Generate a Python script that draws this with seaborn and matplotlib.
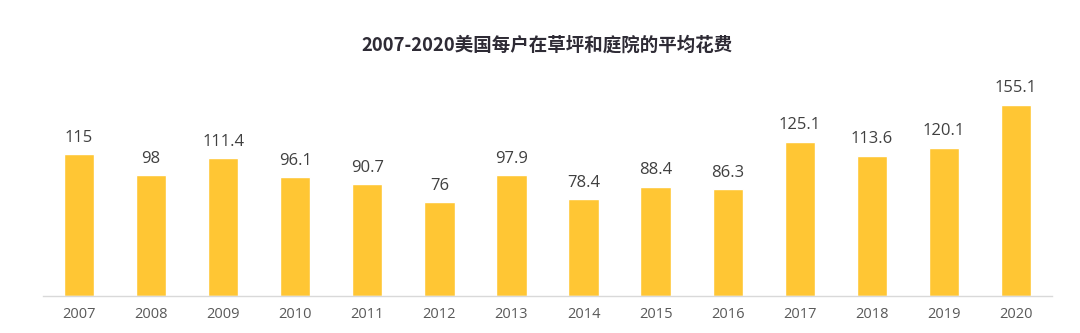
import matplotlib
matplotlib.use("Agg")
import matplotlib.pyplot as plt
import seaborn as sns
import pandas as pd

years = ["2007", "2008", "2009", "2010", "2011", "2012", "2013",
         "2014", "2015", "2016", "2017", "2018", "2019", "2020"]
spending = [115, 98, 111.4, 96.1, 90.7, 76, 97.9,
            78.4, 88.4, 86.3, 125.1, 113.6, 120.1, 155.1]
title = "2007-2020美国每户在草坪和庭院的平均花费"

sns.set_theme(style="white")
plt.rcParams["font.family"] = ["Open Sans", "Noto Sans CJK SC", "DejaVu Sans"]

df = pd.DataFrame({"year": years, "value": spending})

fig = plt.figure(figsize=(10.8, 3.33), dpi=100)
ax = fig.add_axes([43 / 1080, 1 - 295.5 / 333, 1009 / 1080, (295.5 - 80.25) / 333])

sns.barplot(data=df, x="year", y="value", color="#FFC634", width=0.42,
            saturation=1, ax=ax)

for i, v in enumerate(spending):
    ax.annotate(f"{v:g}", (i, v), xytext=(0, 6), textcoords="offset points",
                ha="center", va="bottom", fontsize=12, color="#404040")

ax.set_xlim(-0.5, 13.5)
ax.set_ylim(0, 175)
ax.set_xlabel("")
ax.set_ylabel("")
ax.set_yticks([])
ax.tick_params(axis="x", length=0, pad=8, labelsize=10.5, labelcolor="#595959")
for s in ["top", "left", "right"]:
    ax.spines[s].set_visible(False)
ax.spines["bottom"].set_color("#D9D9D9")
ax.spines["bottom"].set_linewidth(1)

fig.text(547 / 1080, 1 - 45 / 333, title, ha="center", va="center", fontsize=13.3,
         fontweight="bold", color="#2E2B35",
         family=["Noto Sans CJK SC", "DejaVu Sans"])

fig.savefig("out.png", dpi=100)
